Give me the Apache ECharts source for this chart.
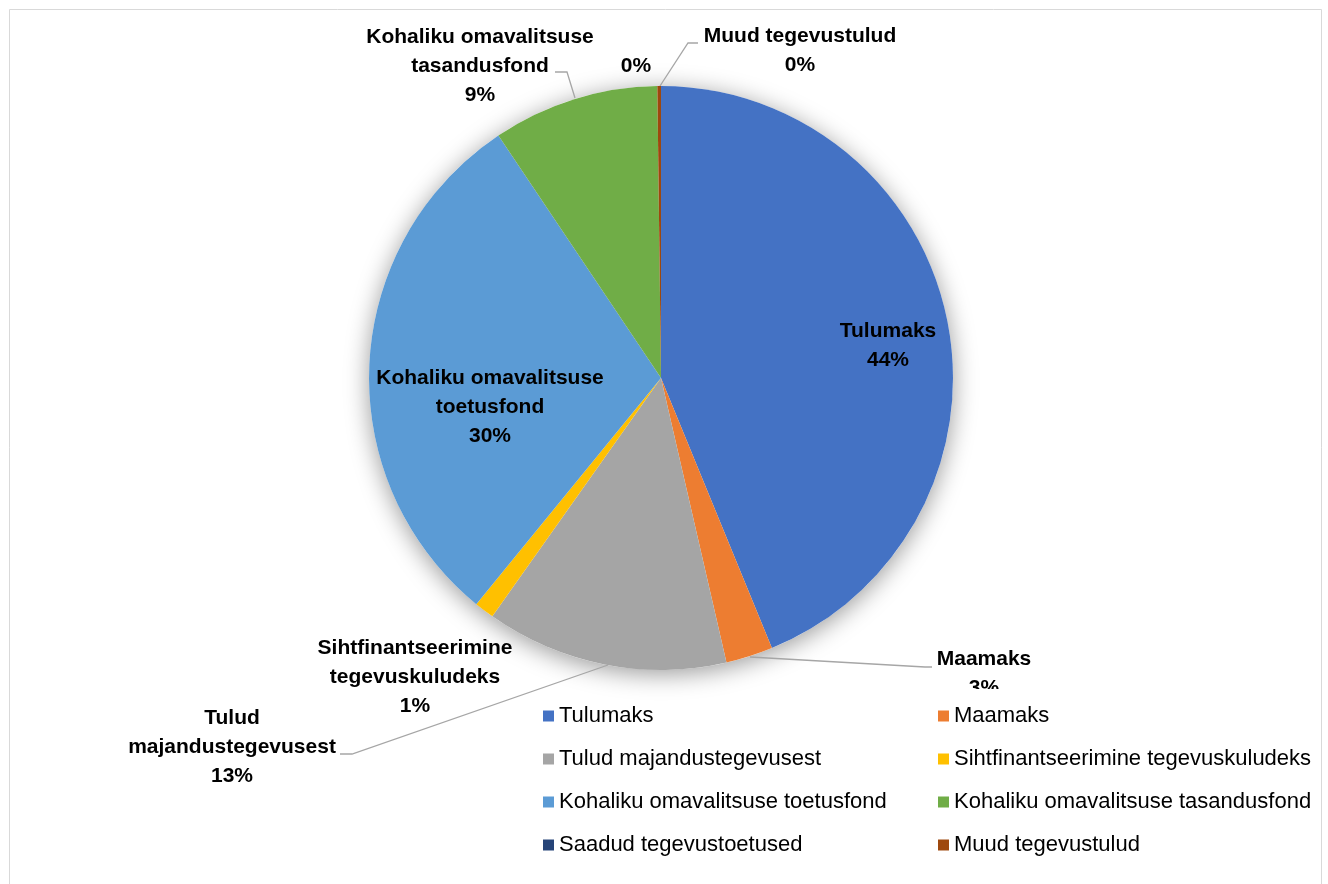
<!DOCTYPE html>
<html>
<head>
<meta charset="utf-8">
<script src="https://cdn.jsdelivr.net/npm/echarts@6/dist/echarts.min.js"></script>
<style>
html,body{margin:0;padding:0;background:#fff;}
#chart{width:1328px;height:884px;}
</style>
</head>
<body>
<div id="chart"></div>
<script>
// Data
const categories = [
  'Tulumaks',
  'Maamaks',
  'Tulud majandustegevusest',
  'Sihtfinantseerimine tegevuskuludeks',
  'Kohaliku omavalitsuse toetusfond',
  'Kohaliku omavalitsuse tasandusfond',
  'Saadud tegevustoetused',
  'Muud tegevustulud'
];
const values = [43.8, 2.6, 13.4, 1.1, 29.7, 9.2, 0, 0.2];
const labelNames = [
  'Tulumaks',
  'Maamaks',
  'Tulud\nmajandustegevusest',
  'Sihtfinantseerimine\ntegevuskuludeks',
  'Kohaliku omavalitsuse\ntoetusfond',
  'Kohaliku omavalitsuse\ntasandusfond',
  '',
  'Muud tegevustulud'
];
const colors = ['#4472C4','#ED7D31','#A5A5A5','#FFC000','#5B9BD5','#70AD47','#264478','#9E480E'];
const legendLeft = [categories[0], categories[2], categories[4], categories[6]];
const legendRight = [categories[1], categories[3], categories[5], categories[7]];

// Label placement (style)
const labelPos = [
  {x: 888, y: 346, line: null},
  {x: 984, y: 674, line: [[750,657],[925,667],[932,667]]},
  {x: 232, y: 747, line: [[608,665],[352,754],[340,754]]},
  {x: 415, y: 677, line: null},
  {x: 490, y: 407, line: null},
  {x: 480, y: 66, line: [[575,98],[567,72],[555,72]]},
  {x: 636, y: 66, line: null},
  {x: 800, y: 51, line: [[660,86],[688,43],[698,43]]}
];

const chart = echarts.init(document.getElementById('chart'));
const labelFont = {fontFamily: 'Liberation Sans, Arial, sans-serif', fontWeight: 'bold', fontSize: 21, color: '#000', lineHeight: 29};

const pieData = categories.map((c, i) => ({
  name: c,
  value: values[i],
  itemStyle: {color: colors[i]},
  labelLine: {show: !!labelPos[i].line}
}));

const legendText = {fontFamily: 'Liberation Sans, Arial, sans-serif', fontSize: 22, color: '#000', lineHeight: 22};

chart.setOption({
  backgroundColor: '#fff',
  animation: false,
  graphic: [{
    type: 'rect', left: 7, top: 7, z: 0,
    shape: {width: 1312, height: 900},
    style: {fill: 'none', stroke: '#D9D9D9', lineWidth: 1}
  }],
  legend: [
    {data: legendLeft, orient: 'vertical', left: 543, top: 705, itemWidth: 11, itemHeight: 11, itemGap: 21,
     icon: 'rect', textStyle: legendText, selectedMode: false, padding: 0},
    {data: legendRight, orient: 'vertical', left: 933, top: 689, itemWidth: 11, itemHeight: 11, itemGap: 21,
     icon: 'rect', textStyle: legendText, selectedMode: false, padding: [16,5,0,5], backgroundColor: '#fff'}
  ],
  series: [
    {
      type: 'pie', silent: true, z: 1,
      center: [661, 378], radius: 292,
      data: [{value: 1, name: '__shadow'}],
      itemStyle: {color: '#fff', shadowBlur: 24, shadowOffsetY: 4, shadowColor: 'rgba(0,0,0,0.4)'},
      label: {show: false}, labelLine: {show: false}
    },
    {
      type: 'pie', z: 2,
      center: [661, 378], radius: 292,
      startAngle: 90, clockwise: true,
      percentPrecision: 0,
      avoidLabelOverlap: false,
      data: pieData,
      label: Object.assign({
        show: true, position: 'outside', align: 'center',
        formatter: p => (labelNames[p.dataIndex] ? labelNames[p.dataIndex] + '\n' : '') + p.percent + '%'
      }, labelFont),
      labelLine: {lineStyle: {color: '#A6A6A6', width: 1.3}, smooth: false},
      labelLayout: function (params) {
        const p = labelPos[params.dataIndex];
        const o = {x: p.x, y: p.y, align: 'center', verticalAlign: 'middle'};
        if (p.line) o.labelLinePoints = p.line;
        return o;
      }
    }
  ]
});
</script>
</body>
</html>
